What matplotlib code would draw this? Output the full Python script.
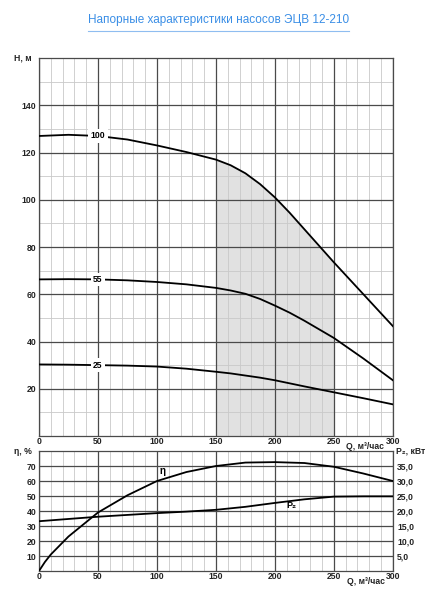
import numpy as np
import matplotlib
matplotlib.use("Agg")
import matplotlib.pyplot as plt
from matplotlib.lines import Line2D

plt.rcParams['font.family'] = ['Liberation Sans', 'DejaVu Sans']

# Head curves (Q, m3/h -> H, m)
q_head = [0, 25, 50, 75, 100, 125, 150, 162.5, 175, 187.5, 200, 212.5, 225, 250, 275, 300]
h_100 = [127, 127.5, 127, 125.5, 123, 120.2, 117, 114.6, 111.2, 106.6, 101, 94.5, 87.5, 73.5, 60, 46.5]
h_55 = [66.3, 66.4, 66.3, 65.9, 65.2, 64.2, 62.7, 61.6, 60.2, 58.0, 55.2, 52.2, 48.8, 41.5, 32.8, 23.6]
h_25 = [30.3, 30.2, 30.0, 29.8, 29.4, 28.5, 27.2, 26.5, 25.6, 24.7, 23.6, 22.3, 21.0, 18.5, 16.0, 13.4]
curve_labels = ['100', '55', '25']

# Efficiency and power
q_eff = [0, 5, 10, 25, 50, 75, 100, 125, 150, 175, 200, 225, 250, 275, 300]
eta = [0, 6, 11, 23, 39, 50.5, 60, 66, 70, 72.3, 72.6, 72, 69.5, 65, 60]
q_pow = [0, 50, 100, 125, 150, 175, 200, 225, 250, 275, 300]
p2 = [16.6, 18.1, 19.3, 19.8, 20.4, 21.4, 22.7, 23.9, 24.8, 24.9, 24.9]

title = 'Напорные характеристики насосов ЭЦВ 12-210'
q_ticks = [0, 50, 100, 150, 200, 250, 300]
h_ticks = [20, 40, 60, 80, 100, 120, 140]
eta_ticks = [10, 20, 30, 40, 50, 60, 70]
p_ticks = [5, 10, 15, 20, 25, 30, 35]

fig = plt.figure(figsize=(4.38, 6.0), dpi=100)
ax1 = fig.add_axes([0.089, 0.2733, 0.808, 0.63])
ax2 = fig.add_axes([0.089, 0.0483, 0.808, 0.2])

major_c = '#4a4a4a'
minor_c = '#c9c9c9'
tick_font = dict(fontsize=6.2, fontweight='bold', color='#222222')


def style_grid(ax, ymax, ymajor, yminor):
    ax.set_xlim(0, 300)
    ax.set_ylim(0, ymax)
    for x in range(0, 301, 10):
        if x % 50:
            ax.axvline(x, color=minor_c, lw=0.6, zorder=1)
        else:
            ax.axvline(x, color=major_c, lw=0.9, zorder=2)
    if yminor:
        for y in np.arange(yminor, ymax, yminor):
            if y % ymajor:
                ax.axhline(y, color=minor_c, lw=0.6, zorder=1)
    for y in np.arange(ymajor, ymax, ymajor):
        ax.axhline(y, color=major_c, lw=0.9, zorder=2)
    for s in ax.spines.values():
        s.set_color(major_c)
        s.set_linewidth(0.9)
    ax.tick_params(length=0, pad=2)
    ax.tick_params(axis='x', pad=1)
    ax.set_xticks(q_ticks)
    ax.set_xticklabels([str(v) for v in q_ticks], **tick_font)


# Upper chart
style_grid(ax1, 160, 20, 10)
ax1.set_yticks(h_ticks)
ax1.set_yticklabels([str(v) for v in h_ticks], **tick_font)
q_arr = np.array(q_head)
mask = (q_arr >= 150) & (q_arr <= 250)
ax1.fill_between(q_arr[mask], 0, np.array(h_100)[mask], color='#e1e1e1', zorder=0.5, lw=0)
for h, lab in zip([h_100, h_55, h_25], curve_labels):
    ax1.plot(q_head, h, color='black', lw=1.3, zorder=3)
    ax1.text(50, h[2], lab, ha='center', va='center', zorder=4,
             fontsize=6.2, fontweight='bold',
             bbox=dict(facecolor='white', edgecolor='none', pad=1.6))
ax1.text(-0.02, 1.0, 'H, м', transform=ax1.transAxes, ha='right', va='center', **tick_font)

# Lower chart
style_grid(ax2, 80, 10, None)
ax2.set_yticks(eta_ticks)
ax2.set_yticklabels([str(v) for v in eta_ticks], **tick_font)
ax2.plot(q_eff, eta, color='black', lw=1.3, zorder=3)
ax2.text(105, 67, 'η', ha='center', va='center', fontsize=7, fontweight='bold', zorder=4)
ax2r = ax2.twinx()
ax2r.set_ylim(0, 40)
ax2r.set_yticks(p_ticks)
ax2r.set_yticklabels([f'{v:.1f}'.replace('.', ',') for v in p_ticks], **tick_font)
ax2r.tick_params(length=0, pad=3)
for s in ax2r.spines.values():
    s.set_visible(False)
ax2r.plot(q_pow, p2, color='black', lw=1.3, zorder=3)
ax2r.text(214, 21.8, 'P₂', ha='center', va='center', fontsize=6.5, fontweight='bold', zorder=4)
ax2.text(-0.02, 1.0, 'η, %', transform=ax2.transAxes, ha='right', va='center', **tick_font)
ax2r.text(1.01, 1.0, 'P₂, кВт', transform=ax2.transAxes, ha='left', va='center', **tick_font)

# Q axis titles (figure coords so they sit above the lower panel)
fig.text(384 / 438, 1 - 446.5 / 600, 'Q, м³/час', ha='right', va='center', **tick_font)
fig.text(385 / 438, 1 - 582 / 600, 'Q, м³/час', ha='right', va='center', **tick_font)

# Title with underline
fig.text(0.5, 1 - 20 / 600, title, ha='center', va='center', fontsize=8.5, color='#3a8ee6')
fig.add_artist(Line2D([88 / 438, 349 / 438], [1 - 31 / 600] * 2, color='#8fbdf0', lw=0.8))

fig.savefig('out.png', dpi=100, facecolor='white')
